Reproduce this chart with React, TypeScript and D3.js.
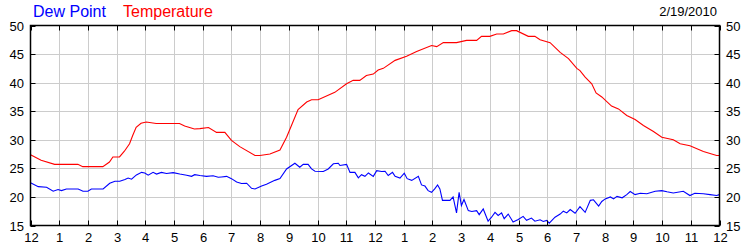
import React from "react";
import * as d3 from "d3";

const tempHours = [0,0.37,0.84,1.65,1.82,2.52,2.75,2.87,3.1,3.27,3.45,3.56,3.68,3.85,4.03,4.38,5.19,5.37,5.71,5.9,6.2,6.48,6.77,7.0,7.29,7.82,7.99,8.34,8.69,8.92,9.09,9.32,9.62,9.79,10.02,10.6,11.01,11.24,11.47,11.7,11.94,12.11,12.29,12.7,13.1,13.45,13.97,14.15,14.38,14.84,15.19,15.54,15.71,16.0,16.24,16.47,16.76,16.93,17.34,17.57,17.75,18.1,18.45,18.74,19.03,19.14,19.32,19.55,19.7,19.9,20.24,20.48,20.77,21.06,21.35,21.7,21.99,22.39,22.63,22.97,23.44,23.9,24.0];
const tempValues = [27.4,26.4,25.7,25.7,25.3,25.3,26.1,27.0,27.0,28.0,29.3,30.75,32.2,32.9,33.1,32.85,32.85,32.4,31.9,31.95,32.15,31.3,31.3,29.9,28.8,27.25,27.25,27.5,28.2,30.45,32.5,35.3,36.6,37.0,37.0,38.3,39.8,40.4,40.4,41.25,41.5,42.2,42.5,43.9,44.6,45.45,46.5,46.3,47.0,47.0,47.4,47.4,48.1,48.1,48.5,48.5,49.1,49.1,48.1,48.1,47.5,47.0,45.3,44.2,42.5,42.1,40.95,39.8,38.2,37.5,35.9,35.4,34.25,33.55,32.5,31.45,30.45,30.0,29.3,28.95,27.95,27.25,27.25];

const dewHours = [0,0.27,0.56,0.79,0.96,1.08,1.25,1.66,1.83,2.0,2.12,2.53,2.76,2.94,3.11,3.29,3.4,3.52,3.69,3.87,3.98,4.1,4.27,4.39,4.56,4.74,4.97,5.2,5.44,5.61,5.72,5.9,6.13,6.36,6.54,6.65,6.83,7.0,7.18,7.35,7.53,7.7,7.82,8.05,8.22,8.51,8.69,8.92,9.21,9.38,9.5,9.67,9.79,9.91,10.2,10.37,10.55,10.72,10.78,11.01,11.13,11.3,11.42,11.53,11.65,11.77,11.94,12.06,12.23,12.35,12.46,12.61,12.7,12.87,13.02,13.12,13.28,13.51,13.62,13.74,13.85,13.97,14.08,14.18,14.26,14.35,14.61,14.72,14.84,14.93,15.01,15.1,15.25,15.37,15.54,15.63,15.77,15.94,16.06,16.18,16.29,16.41,16.5,16.64,16.81,16.99,17.16,17.28,17.45,17.57,17.75,17.86,17.98,18.07,18.27,18.45,18.56,18.68,18.8,18.97,19.14,19.32,19.5,19.61,19.79,19.9,20.02,20.2,20.31,20.43,20.61,20.77,20.89,21.06,21.24,21.47,21.76,21.99,22.17,22.39,22.74,22.97,23.14,23.44,23.67,23.9,24.0];
const dewValues = [22.5,21.8,21.7,21.0,21.3,21.1,21.4,21.4,21.0,21.0,21.4,21.4,22.4,22.75,22.75,23.05,23.3,23.1,23.85,24.3,24.2,23.8,24.3,24.0,24.3,24.1,24.25,24.0,23.8,23.6,23.9,23.75,23.6,23.7,23.45,23.5,23.6,23.2,22.6,22.35,22.4,21.5,21.4,21.9,22.2,22.9,23.2,24.9,25.9,25.2,25.7,25.7,24.9,24.5,24.45,24.9,25.8,25.9,25.5,25.7,24.3,24.3,23.35,23.9,23.6,24.2,23.6,24.6,24.45,24.5,23.75,24.3,23.6,23.3,24.15,23.2,22.9,23.6,22.1,21.9,21.1,20.8,21.4,22.1,21.4,19.4,19.4,20.0,17.2,20.8,18.5,19.55,17.6,17.45,17.6,16.9,17.9,15.75,16.45,17.3,16.75,17.2,16.2,17.0,15.6,16.05,16.6,15.9,16.3,15.75,16.0,15.7,15.9,15.4,16.45,17.0,17.5,17.2,17.8,17.15,18.3,17.3,19.4,19.5,18.4,19.2,19.65,20.0,19.65,20.1,19.85,20.4,20.95,20.4,20.65,20.55,21.0,21.1,20.9,20.7,21.0,20.25,20.65,20.55,20.4,20.25,20.4];

const hourLabels = ["12","1","2","3","4","5","6","7","8","9","10","11","12","1","2","3","4","5","6","7","8","9","10","11","12"];
const yTicks = [15,20,25,30,35,40,45,50];
const legendLabels = ["Dew Point", "Temperature"];
const dateLabel = "2/19/2010";

export default function App() {
  const W = 750, H = 250;
  const left = 30.5, right = 719.5, top = 25.5, bottom = 225.5;
  const x = d3.scaleLinear().domain([0, 24]).range([left, right]);
  const y = d3.scaleLinear().domain([15, 50]).range([bottom, top]);
  const hourIdx = d3.range(0, 25);
  const line = d3.line<[number, number]>().x(d => x(d[0])).y(d => y(d[1]));
  const tempPath = line(tempHours.map((h, i) => [h, tempValues[i]]) as [number, number][]) || "";
  const dewPath = line(dewHours.map((h, i) => [h, dewValues[i]]) as [number, number][]) || "";
  const font = "'Liberation Sans', Arial, sans-serif";
  return (
    <svg width={W} height={H} style={{ position: "absolute", left: 0, top: 0 }} fontFamily={font}>
      <rect x={0} y={0} width={W} height={H} fill="#fff" />
      {hourIdx.slice(1, -1).map(i => (
        <line key={"gx" + i} x1={Math.round(x(i)) + 0.5} x2={Math.round(x(i)) + 0.5} y1={top} y2={bottom} stroke="#cccccc" strokeWidth={1} />
      ))}
      {yTicks.slice(1, -1).map(v => (
        <line key={"gy" + v} x1={left} x2={right} y1={Math.round(y(v)) + 0.5} y2={Math.round(y(v)) + 0.5} stroke="#cccccc" strokeWidth={1} />
      ))}
      <path d={dewPath} fill="none" stroke="#0000ff" strokeWidth={1.1} />
      <path d={tempPath} fill="none" stroke="#ff0000" strokeWidth={1.1} />
      <rect x={left} y={top} width={right - left} height={bottom - top} fill="none" stroke="#000" strokeWidth={1.5} />
      {hourIdx.map(i => {
        const xx = Math.round(x(i)) + 0.5;
        return (
          <g key={"tx" + i}>
            <line x1={xx} x2={xx} y1={top} y2={top + 5} stroke="#000" />
            <line x1={xx} x2={xx} y1={bottom} y2={bottom - 5} stroke="#000" />
            <text x={xx} y={242} textAnchor="middle" fontSize={13} fill="#000">{hourLabels[i]}</text>
          </g>
        );
      })}
      {yTicks.map(v => {
        const yy = Math.round(y(v)) + 0.5;
        return (
          <g key={"ty" + v}>
            <line x1={left} x2={left + 5} y1={yy} y2={yy} stroke="#000" />
            <line x1={right} x2={right - 5} y1={yy} y2={yy} stroke="#000" />
            <text x={24} y={yy + 4.5} textAnchor="end" fontSize={13} fill="#000">{v}</text>
            <text x={726} y={yy + 4.5} textAnchor="start" fontSize={13} fill="#000">{v}</text>
          </g>
        );
      })}
      <text x={33} y={17} fontSize={16} fill="#0000ff">{legendLabels[0]}</text>
      <text x={123} y={17} fontSize={16} fill="#ff0000">{legendLabels[1]}</text>
      <text x={717} y={16} fontSize={13} textAnchor="end" fill="#000">{dateLabel}</text>
    </svg>
  );
}
